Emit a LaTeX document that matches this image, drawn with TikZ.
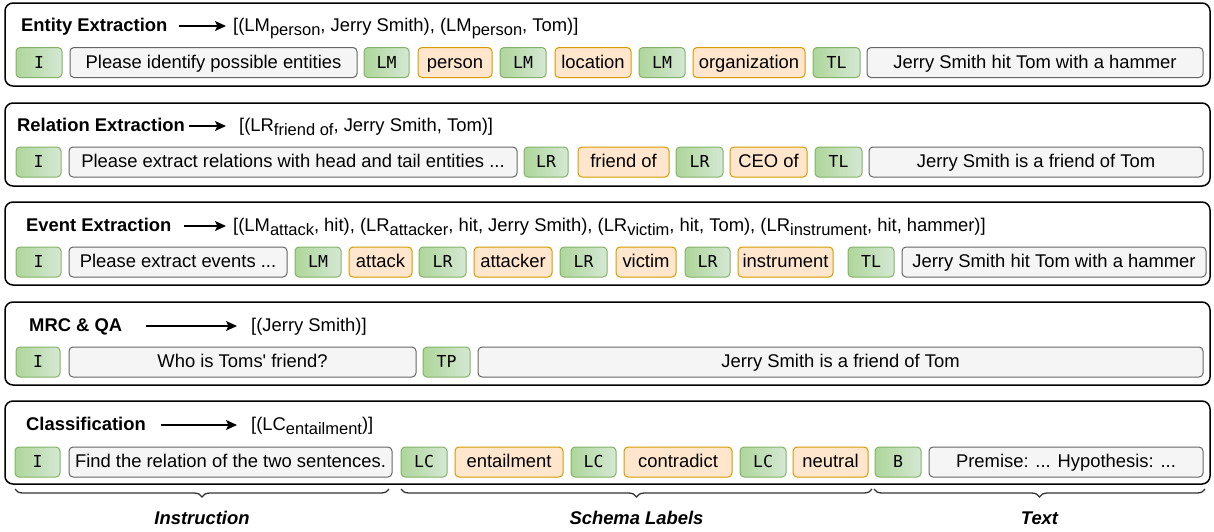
\documentclass[tikz,border=0pt]{standalone}
\usepackage{fontspec}
\setmainfont{Liberation Sans}
\newfontfamily\monof{DejaVu Sans Mono}
\newfontfamily\rawf{Liberation Sans}[Ligatures=TeXOff]
\usetikzlibrary{arrows.meta,decorations.pathreplacing}
\definecolor{gfill}{HTML}{D5E8D4}
\definecolor{gdark}{HTML}{AED69A}
\definecolor{gline}{HTML}{82B366}
\definecolor{ofill}{HTML}{FFE6CC}
\definecolor{oline}{HTML}{D79B00}
\definecolor{kfill}{HTML}{F5F5F5}
\definecolor{kline}{HTML}{666666}
\newcommand\sbs[1]{\raisebox{-4.5pt}{\fontsize{16.5}{17}\selectfont #1}}
\newcommand\blk[6]{\node[#1, minimum width={(#4-#3)*1pt}] (#2) at ({(#3+#4)/2},#5) {#6};}
\begin{document}
\begin{tikzpicture}[x=1pt,y=-1pt,
 base/.style={rounded corners=4pt, line width=1pt, minimum height=30pt, inner sep=0pt,
   font=\fontsize{18.4}{20}\selectfont, text height=14pt, text depth=3pt},
 gbox/.style={base, draw=gline, left color=gdark, right color=gfill, font=\monof\fontsize{16.5}{17}\selectfont},
 obox/.style={base, draw=oline, fill=ofill},
 kbox/.style={base, draw=kline, fill=kfill},
 rowbox/.style={draw=black, line width=1.5pt, rounded corners=8pt, minimum width=1205pt,
   minimum height=83pt, inner sep=0pt, fill=white},
 ttl/.style={anchor=west, inner sep=0pt, font=\bfseries\fontsize{18.4}{20}\selectfont, text height=14pt, text depth=4pt},
 res/.style={anchor=west, inner sep=0pt, font=\fontsize{18.4}{20}\selectfont, text height=14pt, text depth=4pt},
 arr/.style={line width=1.3pt, -{Stealth[length=11pt,width=10pt,inset=2.5pt]}},
 brc/.style={draw=black!80, line width=1.3pt, decorate, decoration={brace, mirror, amplitude=8pt}},
 lab/.style={font=\bfseries\itshape\fontsize{18.4}{20}\selectfont, inner sep=0pt}
]
\useasboundingbox (0,0) rectangle (1214,531);

% ---------- outer row boxes
\node[rowbox] (row1) at (607.5,44.5) {};
\node[rowbox] (row2) at (607.5,144.5) {};
\node[rowbox] (row3) at (607.5,243.5) {};
\node[rowbox] (row4) at (607.5,343.5) {};
\node[rowbox] (row5) at (607.5,442.5) {};

% ---------- row 1: Entity Extraction
\node[ttl] (t1) at (21,26) {Entity Extraction};
\node[res] (r1) at (233,26) {[(LM\sbs{person}, Jerry Smith), (LM\sbs{person}, Tom)]};
\draw[arr, shorten <=11pt, shorten >=7pt] (t1.east) -- (r1.west);
\blk{gbox}{a1}{16}{62}{62.5}{I}
\blk{kbox}{a2}{70}{357}{62.5}{Please identify possible entities}
\blk{gbox}{a3}{364}{409}{62.5}{LM}
\blk{obox}{a4}{418}{492}{62.5}{person}
\blk{gbox}{a5}{500}{546}{62.5}{LM}
\blk{obox}{a6}{555}{631}{62.5}{location}
\blk{gbox}{a7}{639}{685}{62.5}{LM}
\blk{obox}{a8}{693}{805}{62.5}{organization}
\blk{gbox}{a9}{813}{860}{62.5}{TL}
\blk{kbox}{a10}{867}{1203}{62.5}{Jerry Smith hit Tom with a hammer}

% ---------- row 2: Relation Extraction
\node[ttl] (t2) at (17,126) {Relation Extraction};
\node[res] (r2) at (239,126) {[(LR\sbs{friend of}, Jerry Smith, Tom)]};
\draw[arr, shorten <=4pt, shorten >=13pt] (t2.east) -- (r2.west);
\blk{gbox}{b1}{16}{61}{162}{I}
\blk{kbox}{b2}{69}{517}{162}{Please extract relations with head and tail entities ...}
\blk{gbox}{b3}{524}{568}{162}{LR}
\blk{obox}{b4}{578}{669}{162}{friend of}
\blk{gbox}{b5}{676}{723}{162}{LR}
\blk{obox}{b6}{730}{807}{162}{CEO of}
\blk{gbox}{b7}{815}{862}{162}{TL}
\blk{kbox}{b8}{869}{1203}{162}{Jerry Smith is a friend of Tom}

% ---------- row 3: Event Extraction
\node[ttl] (t3) at (26,226) {Event Extraction};
\node[res] (r3) at (233,226) {[(LM\sbs{attack}, hit), (LR\sbs{attacker}, hit, Jerry Smith), (LR\sbs{victim}, hit, Tom), (LR\sbs{instrument}, hit, hammer)]};
\draw[arr, shorten <=12pt, shorten >=7pt] (t3.east) -- (r3.west);
\blk{gbox}{c1}{16}{61}{262}{I}
\blk{kbox}{c2}{69}{287}{262}{Please extract events ...}
\blk{gbox}{c3}{295}{341}{262}{LM}
\blk{obox}{c4}{349}{412}{262}{attack}
\blk{gbox}{c5}{419}{466}{262}{LR}
\blk{obox}{c6}{474}{552}{262}{attacker}
\blk{gbox}{c7}{560}{607}{262}{LR}
\blk{obox}{c8}{616}{676}{262}{victim}
\blk{gbox}{c9}{685}{730}{262}{LR}
\blk{obox}{c10}{738}{833}{262}{instrument}
\blk{gbox}{c11}{848}{894}{262}{TL}
\blk{kbox}{c12}{902}{1206}{262}{Jerry Smith hit Tom with a hammer}

% ---------- row 4: MRC & QA
\node[ttl] (t4) at (29,326) {MRC \& QA};
\node[res] (r4) at (251,326) {[(Jerry Smith)]};
\draw[arr, shorten <=24pt, shorten >=14pt] (t4.east) -- (r4.west);
\blk{gbox}{d1}{16}{60}{362}{I}
\blk{kbox}{d2}{69}{416}{362}{\rawf Who is Toms' friend?}
\blk{gbox}{d3}{423}{470}{362}{TP}
\blk{kbox}{d4}{478}{1203}{362}{Jerry Smith is a friend of Tom}

% ---------- row 5: Classification
\node[ttl] (t5) at (26,425) {Classification};
\node[res] (r5) at (251,425) {[(LC\sbs{entailment})]};
\draw[arr, shorten <=15pt, shorten >=14pt] (t5.east) -- (r5.west);
\blk{gbox}{e1}{15}{60}{462}{I}
\blk{kbox}{e2}{69}{392}{462}{Find the relation of the two sentences.}
\blk{gbox}{e3}{401}{447}{462}{LC}
\blk{obox}{e4}{455}{563}{462}{entailment}
\blk{gbox}{e5}{571}{616}{462}{LC}
\blk{obox}{e6}{624}{732}{462}{contradict}
\blk{gbox}{e7}{740}{786}{462}{LC}
\blk{obox}{e8}{793}{868}{462}{neutral}
\blk{gbox}{e9}{875}{921}{462}{B}
\blk{kbox}{e10}{929}{1203}{462}{Premise: ... Hypothesis: ...}

% ---------- braces and labels
\coordinate (i1) at (15,489);  \coordinate (i2) at (389,489);
\coordinate (s1) at (401,489); \coordinate (s2) at (872,489);
\coordinate (x1) at (874,489); \coordinate (x2) at (1205,489);
\draw[brc] (i1) -- (i2);
\draw[brc] (s1) -- (s2);
\draw[brc] (x1) -- (x2);
\node[lab] (lInstr) at (202,518) {Instruction};
\node[lab] (lSchema) at (636.5,518) {Schema Labels};
\node[lab] (lText) at (1039.5,518) {Text};
\end{tikzpicture}
\end{document}
